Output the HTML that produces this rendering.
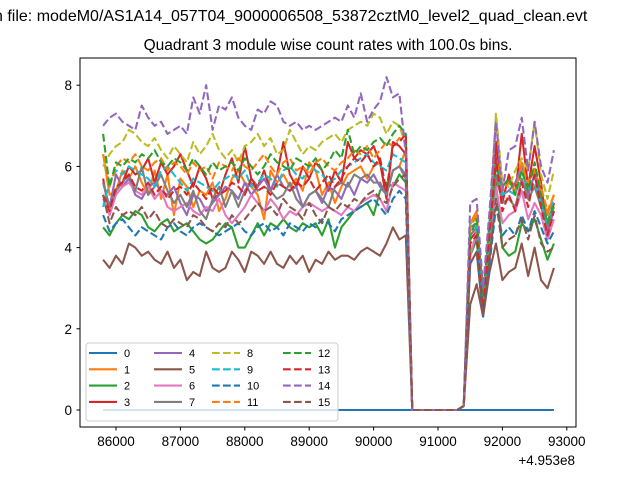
<!DOCTYPE html>
<html><head><meta charset="utf-8"><style>
html,body{margin:0;padding:0;background:#fff;overflow:hidden}
svg{display:block;font-family:"Liberation Sans","DejaVu Sans",sans-serif}
</style></head><body>
<svg id="chart" width="640" height="480" viewBox="0 0 640 480">
<rect x="0" y="0" width="640" height="480" fill="#fff"/>
<text x="-6" y="21" font-size="16" fill="#000">n file: modeM0/AS1A14_057T04_9000006508_53872cztM0_level2_quad_clean.evt</text>
<text x="328" y="50" font-size="15.5" text-anchor="middle" fill="#000">Quadrant 3 module wise count rates with 100.0s bins.</text>
<g id="series"></g>
<rect x="80" y="58" width="496" height="369" fill="none" stroke="#000" stroke-width="1"/>
<g id="ticks"></g>
<text x="575" y="465" font-size="13.5" text-anchor="end">+4.953e8</text>
<g id="legend"></g>
</svg>
<script>
const xStart = 85800;
const xStep = 100;
const xTicks = [86000,87000,88000,89000,90000,91000,92000,93000];
const yTicks = [0,2,4,6,8];
const seriesNames = ["0","1","2","3","4","5","6","7","8","9","10","11","12","13","14","15"];
const gap = [0,0,0,0,0,0,0,0,0.1];
const s0 = [0,0,0,0,0,0,0,0,0,0,0,0,0,0,0,0,0,0,0,0,0,0,0,0,0,0,0,0,0,0,0,0,0,0,0,0,0,0,0,0,0,0,0,0,0,0,0,0,0,0,0,0,0,0,0,0,0,0,0,0,0,0,0,0,0,0,0,0,0,0,0];
const s1 = [6.3,5.3,5.4,5.9,5.7,6.0,5.6,5.3,5.9,5.2,5.8,4.8,5.7,5.5,5.0,5.4,5.3,5.6,4.9,5.2,5.7,5.9,5.6,5.5,5.3,4.7,5.9,5.6,5.8,5.5,5.7,5.4,6.1,5.9,5.3,5.6,5.1,5.5,5.8,5.9,6.0,5.7,6.0,6.1,5.3,5.9,6.0,6.4].concat(gap,[4.6,4.9,2.6,4.6,6.4,5.2,5.7,5.5,6.1,5.6,5.9,5.4,4.8,5.3]);
const s2 = [4.5,4.3,4.6,4.8,4.7,4.9,4.8,4.5,4.4,4.6,4.7,4.4,4.5,4.6,4.4,4.2,4.1,4.2,4.4,4.6,4.5,4.0,4.0,4.3,4.6,4.3,4.6,4.5,4.7,4.5,4.4,4.6,4.5,4.6,4.3,4.7,4.0,4.5,4.7,4.9,5.0,5.1,4.8,5.4,5.6,5.5,5.8,5.6].concat(gap,[3.8,4.2,2.4,3.9,5.6,4.0,3.8,3.9,4.6,4.4,4.7,4.2,3.7,4.1]);
const s3 = [5.7,4.8,5.4,5.6,6.0,5.8,5.9,6.2,5.6,6.1,5.8,6.0,6.3,5.9,5.5,6.0,5.7,5.2,5.3,5.8,6.2,5.6,6.5,5.7,5.5,5.9,5.4,5.8,6.6,5.8,5.5,6.0,5.7,6.1,5.9,5.4,5.9,5.6,6.6,6.2,6.4,6.3,6.5,6.1,5.2,6.6,6.5,6.3].concat(gap,[4.2,4.4,2.5,4.5,6.6,5.1,5.8,5.3,6.8,5.5,6.5,5.6,4.3,5.1]);
const s4 = [5.6,5.0,5.8,5.5,5.7,5.3,5.2,5.5,5.6,5.4,5.3,5.5,5.1,4.8,5.3,5.2,4.9,5.1,5.3,5.5,5.4,5.2,5.6,5.3,5.5,5.7,5.4,5.8,5.5,5.4,5.5,5.0,5.3,5.4,5.1,5.5,5.4,5.2,5.6,5.3,5.7,5.6,5.8,5.5,5.3,5.9,6.0,5.8].concat(gap,[4.5,4.6,2.6,4.6,7.2,5.3,5.4,5.6,6.0,5.3,5.8,5.2,4.4,4.9]);
const s5 = [3.7,3.5,3.8,3.6,4.1,4.0,3.8,3.9,3.7,3.6,3.9,3.5,3.7,3.2,3.4,3.3,3.9,3.5,3.4,3.5,3.9,3.7,3.4,3.9,3.8,3.6,3.9,3.6,3.5,3.8,3.6,3.8,3.4,3.7,3.6,3.9,3.7,3.8,3.8,3.7,3.9,4.0,3.9,3.8,4.1,4.5,4.2,4.3].concat(gap,[2.6,3.1,2.3,3.4,4.1,3.2,3.4,3.5,4.1,3.3,4.0,3.2,3.0,3.5]);
const s6 = [5.2,4.8,5.3,5.5,5.6,5.4,5.3,5.5,5.2,5.4,5.0,4.9,5.0,5.1,4.9,4.8,5.0,4.9,5.2,4.8,4.6,4.8,5.0,5.3,5.1,4.9,5.2,5.0,4.7,4.9,4.8,5.0,5.1,5.0,4.9,5.0,4.9,4.8,5.0,4.9,5.1,5.2,5.3,5.2,4.9,5.6,5.5,5.4].concat(gap,[3.8,4.4,2.6,4.2,5.5,4.6,4.8,4.9,5.4,4.7,5.1,4.8,4.2,4.7]);
const s7 = [5.6,5.0,5.4,5.6,5.8,5.4,6.0,5.3,5.5,5.8,5.4,5.1,5.3,5.0,5.4,4.9,4.7,5.2,5.5,5.0,5.4,5.0,5.4,5.6,5.4,5.5,5.4,5.2,5.3,5.6,5.2,5.0,5.3,5.4,5.2,5.0,5.5,5.6,5.5,5.8,5.7,5.8,5.6,5.6,5.3,5.9,6.0,5.7].concat(gap,[4.3,4.5,2.5,4.3,5.8,5.1,5.2,5.0,5.7,5.2,5.5,5.0,4.5,5.0]);
const s8 = [6.0,6.3,6.5,6.6,6.9,6.8,6.6,6.5,6.7,6.4,6.2,6.5,6.3,6.1,6.6,6.3,6.5,6.8,6.4,6.2,6.4,6.1,6.5,6.6,6.8,6.5,6.7,6.3,6.4,6.9,6.6,6.3,6.5,6.4,6.6,6.7,6.8,6.6,6.9,7.0,7.1,7.0,7.3,7.2,6.8,7.1,7.0,6.5].concat(gap,[4.6,4.7,2.9,4.6,7.3,5.6,5.5,5.9,6.2,5.9,7.1,5.8,5.2,5.9]);
const s9 = [5.0,5.6,5.9,5.8,6.0,5.9,5.8,5.7,5.5,5.9,6.0,5.8,5.6,5.4,5.7,5.6,5.5,5.4,5.6,5.7,5.8,5.7,5.9,5.5,5.6,5.8,5.7,5.5,5.9,6.0,5.8,5.7,6.0,5.9,5.8,5.6,5.7,5.9,6.0,6.1,6.2,6.3,6.1,6.0,5.9,6.3,6.2,6.1].concat(gap,[4.6,4.5,2.7,4.4,6.2,5.3,5.4,5.3,5.9,5.4,5.6,5.1,4.6,5.2]);
const s10 = [4.8,4.4,4.6,4.7,4.5,4.3,4.5,4.4,4.3,4.2,4.5,4.6,4.4,4.3,4.5,4.6,4.5,4.4,4.3,4.4,4.5,4.6,4.4,4.3,4.5,4.6,4.4,4.5,4.3,4.6,4.5,4.4,4.6,4.5,4.7,4.6,4.4,4.7,4.8,4.9,5.0,5.1,5.2,5.0,4.8,5.2,5.4,5.2].concat(gap,[3.6,3.9,2.3,3.6,5.0,4.3,4.5,4.3,4.8,4.4,4.9,4.5,4.1,4.4]);
const s11 = [6.3,5.5,6.0,6.2,6.1,6.3,6.0,5.9,6.1,6.2,5.9,6.1,6.0,5.8,6.1,5.9,6.0,5.7,6.1,6.0,5.9,6.2,6.0,5.9,6.1,6.3,6.0,5.8,6.1,6.2,5.9,6.0,5.8,6.1,6.2,6.0,5.9,6.1,6.2,6.4,6.3,6.5,6.2,6.4,6.6,6.5,6.7,6.6].concat(gap,[4.5,4.8,2.7,4.4,6.2,5.4,5.6,5.4,6.0,5.6,6.0,5.5,4.9,5.3]);
const s12 = [6.8,5.5,6.1,6.0,6.2,6.1,6.3,6.2,6.4,6.1,6.0,6.2,6.1,5.9,6.2,6.0,5.8,6.1,5.9,6.0,6.1,5.9,6.2,6.0,5.8,6.0,6.3,6.1,6.0,5.9,6.2,6.1,6.0,6.2,5.9,6.1,6.4,6.2,6.9,6.3,6.5,6.4,6.6,6.7,6.5,6.8,7.0,6.8].concat(gap,[4.3,4.7,2.8,4.6,6.0,5.5,5.7,5.3,5.9,5.4,6.1,5.3,4.6,5.1]);
const s13 = [5.3,4.9,5.5,5.6,5.8,5.5,5.4,5.6,5.3,5.5,5.2,5.4,5.5,5.3,5.6,5.4,5.2,5.5,5.3,5.4,5.6,5.5,5.3,5.7,5.4,5.5,5.3,5.6,5.5,5.4,5.6,5.5,5.7,5.4,5.6,5.8,5.5,5.7,6.0,6.2,6.1,6.3,6.0,6.2,5.4,6.5,6.6,6.8].concat(gap,[4.1,4.3,2.4,4.3,6.2,4.9,5.3,4.9,5.6,5.0,5.8,5.0,4.3,4.9]);
const s14 = [7.0,7.2,7.3,7.1,7.0,6.9,7.5,7.2,7.0,7.1,6.8,6.9,7.0,6.8,7.7,7.3,8.0,6.9,7.5,7.4,7.7,7.2,7.0,6.9,7.4,7.3,7.6,7.5,7.1,7.0,7.1,6.9,7.0,6.9,7.0,7.1,7.2,7.1,7.5,7.2,7.8,7.1,7.4,7.6,8.2,7.7,7.8,6.3].concat(gap,[5.1,5.2,3.0,4.9,7.1,5.4,6.4,6.5,7.2,5.9,7.1,6.0,5.6,6.4]);
const s15 = [5.3,4.6,5.0,4.8,4.9,4.8,5.0,4.7,4.9,4.6,4.5,4.7,4.6,4.5,4.8,4.7,4.5,4.4,4.6,4.5,4.8,4.6,4.7,4.9,5.1,4.9,5.0,4.8,5.2,5.0,4.9,4.7,5.1,4.8,4.6,5.0,4.9,5.1,5.0,5.2,5.1,5.3,5.4,5.2,5.1,5.5,5.7,5.8].concat(gap,[3.6,3.9,2.3,3.7,5.2,4.0,4.2,4.3,4.7,4.2,4.8,4.1,3.9,4.0]);
const seriesValues = [s0,s1,s2,s3,s4,s5,s6,s7,s8,s9,s10,s11,s12,s13,s14,s15];

const NS = "http://www.w3.org/2000/svg";
const colors = ["#1f77b4","#ff7f0e","#2ca02c","#d62728","#9467bd","#8c564b","#e377c2","#7f7f7f","#bcbd22","#17becf"];
function xScale(t){ return 116 + (t - 86000) * 0.0644; }
function yScale(v){ return 410 - v * 40.6; }
function mk(tag, attrs, parent){ const e = document.createElementNS(NS, tag); for (const k in attrs) e.setAttribute(k, attrs[k]); parent.appendChild(e); return e; }

const sg = document.getElementById("series");
seriesValues.forEach((vals, si) => {
  const pts = vals.map((v, i) => xScale(xStart + i * xStep).toFixed(2) + "," + yScale(v).toFixed(2)).join(" ");
  const pl = mk("polyline", {points: pts, fill: "none", stroke: colors[si % 10], "stroke-width": 2.08, "stroke-linejoin": "round"}, sg);
  if (si >= 8) pl.setAttribute("stroke-dasharray", "7.7 3.3");
  
  
});

const tg = document.getElementById("ticks");
xTicks.forEach(t => {
  const x = xScale(t);
  const ln = mk("line", {x1: x, x2: x, y1: 427, y2: 430.5, stroke: "#000", "stroke-width": 1}, tg);
  
  
  const tx = mk("text", {x: x, y: 446, "font-size": 13.5, "text-anchor": "middle"}, tg);
  tx.textContent = t;
  
  
});
yTicks.forEach(v => {
  const y = yScale(v);
  const ln = mk("line", {x1: 76.5, x2: 80, y1: y, y2: y, stroke: "#000", "stroke-width": 1}, tg);
  
  
  const tx = mk("text", {x: 72, y: y + 5, "font-size": 13.5, "text-anchor": "end"}, tg);
  tx.textContent = v;
  
  
});

const lg = document.getElementById("legend");
const box = mk("rect", {x: 86, y: 343, width: 252, height: 78, rx: 3, fill: "#fff", "fill-opacity": 0.8, stroke: "#ccc", "stroke-width": 1}, lg);


const colX = [89, 154, 212, 283];
seriesNames.forEach((n, si) => {
  const c = Math.floor(si / 4), r = si % 4;
  const y = 353 + r * 16.3;
  const ln = mk("line", {x1: colX[c], x2: colX[c] + 28, y1: y, y2: y, stroke: colors[si % 10], "stroke-width": 2.08}, lg);
  if (si >= 8) ln.setAttribute("stroke-dasharray", "7.7 3.3");
  
  
  const tx = mk("text", {x: colX[c] + 35, y: y + 4, "font-size": 11}, lg);
  tx.textContent = n;
  
  
});
</script>
</body></html>
